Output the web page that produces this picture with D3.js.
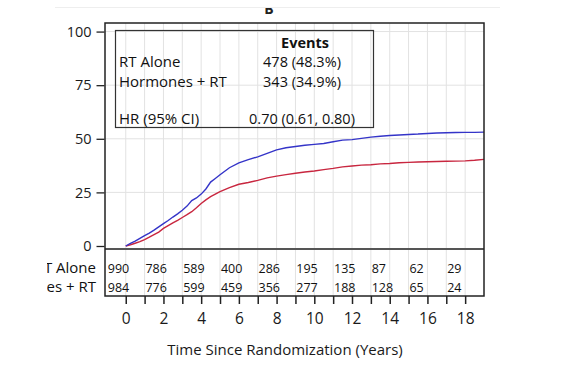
<!DOCTYPE html>
<html>
<head>
<meta charset="utf-8">
<script src="https://cdn.jsdelivr.net/npm/d3@7"></script>
<style>
  html, body { margin: 0; padding: 0; background: #fff; }
  svg { display: block; font-family: "Open Sans", sans-serif; }
</style>
</head>
<body>
<div id="app"></div>
<script>
// cumulative incidence (%)
const years = [0, 0.25, 0.5, 0.75, 1, 1.25, 1.5, 1.75, 2, 2.25, 2.5, 2.75, 3, 3.25, 3.5, 3.75, 4, 4.25, 4.5, 4.75, 5,
  5.5, 6, 6.5, 7, 7.5, 8, 8.5, 9, 9.5, 10, 10.5, 11, 11.5, 12, 12.5, 13, 13.5, 14, 14.5, 15, 15.5, 16, 16.5, 17, 17.5, 18, 18.5, 19];
const rtAlone = [0, 1.2, 2.3, 3.6, 4.8, 6.0, 7.4, 8.9, 10.4, 11.9, 13.5, 15.0, 16.7, 18.6, 21.2, 22.4, 24.2, 26.6, 29.8, 31.5, 33.2,
  36.5, 38.8, 40.3, 41.6, 43.2, 44.8, 45.8, 46.4, 47.0, 47.4, 47.8, 48.6, 49.4, 49.6, 50.2, 50.8, 51.2, 51.5, 51.8, 52.0, 52.2, 52.5, 52.7, 52.8, 52.9, 53.0, 53.0, 53.1];
const hormonesRt = [0, 0.6, 1.3, 2.0, 3.0, 4.1, 5.3, 6.5, 8.2, 9.5, 10.8, 12.0, 13.3, 14.6, 16.0, 17.8, 19.8, 21.5, 23.0, 24.2, 25.4,
  27.2, 28.8, 29.6, 30.6, 31.8, 32.6, 33.3, 33.9, 34.5, 35.0, 35.6, 36.2, 36.9, 37.3, 37.7, 37.9, 38.3, 38.5, 38.8, 39.0, 39.2, 39.3, 39.4, 39.5, 39.6, 39.7, 40.0, 40.4];

// number at risk
const riskYears = [0, 2, 4, 6, 8, 10, 12, 14, 16, 18];
const riskRtAlone = [990, 786, 589, 400, 286, 195, 135, 87, 62, 29];
const riskHormones = [984, 776, 599, 459, 356, 277, 188, 128, 65, 24];
const riskLabels = ['RT Alone', 'Hormones + RT'];

const yTicks = [0, 25, 50, 75, 100];
const xTicks = [0, 2, 4, 6, 8, 10, 12, 14, 16, 18];

const legendRows = [
  ['RT Alone', '478 (48.3%)'],
  ['Hormones  + RT', '343 (34.9%)'],
  ['HR (95% CI)', '0.70 (0.61, 0.80)']
];

const width = 564, height = 376;
const frameLeft = 105, frameRight = 484, frameTop = 23, plotBottom = 249, tableBottom = 296;

const svg = d3.select('#app').append('svg')
  .attr('width', width)
  .attr('height', height);

const x = d3.scaleLinear().domain([-1.1, 19]).range([frameLeft, frameRight]);
const y = d3.scaleLinear().domain([-1.4, 104]).range([plotBottom, frameTop]);

// faint crop line + panel letter
svg.append('line')
  .attr('x1', 55).attr('x2', 500).attr('y1', 7.5).attr('y2', 7.5)
  .attr('stroke', '#eee');
svg.append('clipPath').attr('id', 'clipB')
  .append('rect').attr('x', 0).attr('y', 8).attr('width', width).attr('height', 30);
svg.append('text')
  .attr('clip-path', 'url(#clipB)')
  .attr('x', 269).attr('y', 14)
  .attr('text-anchor', 'middle')
  .attr('font-weight', 'bold')
  .attr('font-size', 14)
  .attr('fill', '#222')
  .text('B');

// grid
const grid = svg.append('g');
grid.selectAll('.vg')
  .data(d3.range(0, 19))
  .join('line')
  .attr('x1', d => x(d)).attr('x2', d => x(d))
  .attr('y1', frameTop).attr('y2', tableBottom)
  .attr('stroke', '#e2e2e2');
grid.selectAll('.hg')
  .data(yTicks.slice(1))
  .join('line')
  .attr('x1', frameLeft).attr('x2', frameRight)
  .attr('y1', d => y(d)).attr('y2', d => y(d))
  .attr('stroke', '#e2e2e2');

// y axis
const yAxis = d3.axisLeft(y).tickValues(yTicks).tickSize(8).tickPadding(5);
svg.append('g')
  .attr('transform', `translate(${frameLeft - 0.5},0)`)
  .call(yAxis)
  .call(g => g.select('.domain').remove())
  .call(g => g.selectAll('line').attr('stroke', '#222').attr('stroke-width', 1.3))
  .call(g => g.selectAll('text').attr('font-family', '"Open Sans", sans-serif').attr('font-size', 14.5).attr('fill', '#1a1a1a'));

// curves
const line = d3.line()
  .x(d => x(d[0]))
  .y(d => y(d[1]));

svg.append('path')
  .datum(years.map((t, i) => [t, hormonesRt[i]]))
  .attr('d', line)
  .attr('fill', 'none')
  .attr('stroke', '#c8263f')
  .attr('stroke-width', 1.4);

svg.append('path')
  .datum(years.map((t, i) => [t, rtAlone[i]]))
  .attr('d', line)
  .attr('fill', 'none')
  .attr('stroke', '#3434c8')
  .attr('stroke-width', 1.4);

// zero line between plot and table
svg.append('line')
  .attr('x1', frameLeft).attr('x2', frameRight)
  .attr('y1', plotBottom).attr('y2', plotBottom)
  .attr('stroke', '#555').attr('stroke-width', 2);

// frame
svg.append('rect')
  .attr('x', frameLeft).attr('y', frameTop)
  .attr('width', frameRight - frameLeft).attr('height', tableBottom - frameTop)
  .attr('fill', 'none')
  .attr('stroke', '#222')
  .attr('stroke-width', 1.5);

// legend box
const lg = svg.append('g');
lg.append('rect')
  .attr('x', 115.5).attr('y', 30.5).attr('width', 258).attr('height', 97)
  .attr('fill', 'none').attr('stroke', '#333').attr('stroke-width', 1.2);
lg.append('text')
  .attr('x', 305).attr('y', 47.5)
  .attr('text-anchor', 'middle')
  .attr('font-weight', 'bold')
  .attr('font-size', 14.5)
  .attr('fill', '#111')
  .text('Events');
const rowY = [66.5, 87, 124];
legendRows.forEach((r, i) => {
  lg.append('text')
    .attr('x', 119).attr('y', rowY[i])
    .attr('font-size', 15).attr('fill', '#111')
    .text(r[0]);
  lg.append('text')
    .attr('x', 302).attr('y', rowY[i])
    .attr('text-anchor', 'middle')
    .attr('font-size', 14.5).attr('fill', '#111')
    .text(r[1]);
});

// at-risk table (row labels clipped at the left, as in the source)
svg.append('clipPath').attr('id', 'clipLab')
  .append('rect').attr('x', 47).attr('y', 250).attr('width', 60).attr('height', 50);
const labY = [273, 292];
riskLabels.forEach((l, i) => {
  svg.append('text')
    .attr('clip-path', 'url(#clipLab)')
    .attr('x', 96).attr('y', labY[i])
    .attr('text-anchor', 'end')
    .attr('font-size', 15).attr('fill', '#111')
    .text(l);
});
[riskRtAlone, riskHormones].forEach((row, i) => {
  svg.append('g').selectAll('text')
    .data(row)
    .join('text')
    .attr('x', (d, j) => x(riskYears[j]) - 18)
    .attr('y', labY[i] - 0.5)
    .attr('font-size', 12.5).attr('fill', '#111')
    .text(d => d);
});

// x axis below table
const xAxis = d3.axisBottom(x).tickValues(d3.range(0, 19)).tickSize(8).tickPadding(9)
  .tickFormat(d => xTicks.includes(d) ? d : '');
svg.append('g')
  .attr('transform', `translate(0,${tableBottom})`)
  .call(xAxis)
  .call(g => g.select('.domain').remove())
  .call(g => g.selectAll('line').attr('stroke', '#222').attr('stroke-width', 1.5))
  .call(g => g.selectAll('text').attr('font-family', '"Open Sans", sans-serif').attr('font-size', 15.5).attr('fill', '#1a1a1a'));

svg.append('text')
  .attr('x', 285).attr('y', 355)
  .attr('text-anchor', 'middle')
  .attr('font-size', 15).attr('fill', '#1a1a1a')
  .text('Time Since Randomization (Years)');
</script>
</body>
</html>
